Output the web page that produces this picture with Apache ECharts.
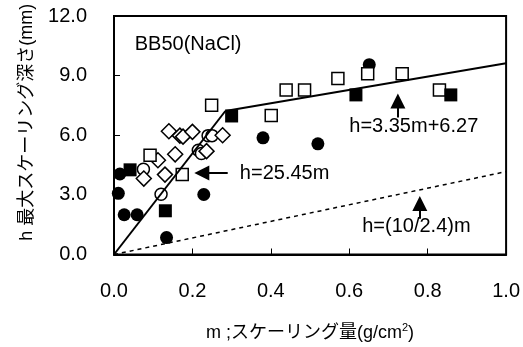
<!DOCTYPE html>
<html lang="ja">

<head>
  <meta charset="utf-8">
  <script src="https://cdn.jsdelivr.net/npm/echarts@6.0.0/dist/echarts.min.js"></script>
</head>

<body style="margin:0">
  <div id="scalingChart" style="width: 523px;height:347px;"></div>

  <script type="text/javascript">

    var xTicks = [0.0, 0.2, 0.4, 0.6, 0.8, 1.0];
    var yTicks = [0.0, 3.0, 6.0, 9.0, 12.0];

    // measured points (m, h)
    var filledCircles = [[0.015, 4.05], [0.011, 3.08], [0.026, 2.0], [0.059, 2.0], [0.134, 0.85],
                         [0.229, 3.02], [0.38, 5.87], [0.52, 5.57], [0.651, 9.55]];
    var openCircles = [[0.075, 4.29], [0.12, 3.03], [0.24, 5.98], [0.25, 5.98], [0.215, 5.25], [0.223, 5.08]];
    var openDiamonds = [[0.14, 6.2], [0.168, 5.98], [0.176, 5.93], [0.2, 6.17], [0.277, 6.0],
                        [0.236, 5.2], [0.156, 5.04], [0.112, 4.74], [0.076, 3.82], [0.13, 4.02]];
    var openSquares = [[0.249, 7.51], [0.092, 5.0], [0.174, 4.02], [0.401, 7.0], [0.439, 8.28],
                       [0.486, 8.28], [0.571, 8.85], [0.647, 9.1], [0.735, 9.1], [0.83, 8.28]];
    var filledSquares = [[0.041, 4.26], [0.131, 2.2], [0.30, 6.97], [0.617, 8.03], [0.859, 8.03]];

    // fitted lines
    var lineSteep = [[0, 0], [0.284, 7.22]];
    var lineFlat = [[0.284, 7.22], [1.0, 9.62]];
    var lineLimit = [[0, 0], [1.0, 4.17]];

    // annotations
    var labelTexts = ['BB50(NaCl)', 'h=25.45m', 'h=3.35m+6.27', 'h=(10/2.4)m'];
    var labelPos = [[0.053, 10.58], [0.321, 4.08], [0.60, 6.44], [0.633, 1.43]];
    var arrows = [
      [[0.29, 4.1], [0.224, 4.1]],
      [[0.724, 6.89], [0.724, 7.72]],
      [[0.78, 1.80], [0.78, 2.57]]
    ];

    var FONT = 'Arial, "Liberation Sans", "Noto Sans CJK JP", sans-serif';

    function getOrCreateChart(div) {
        return echarts.init(div);
    }

    function scatterSeries(name, data, symbol, size, filled) {
        return {
            name: name,
            type: 'scatter',
            data: data,
            symbol: symbol,
            symbolSize: size,
            itemStyle: {
                color: filled ? '#000' : '#fff',
                borderColor: '#000',
                borderWidth: filled ? 0 : 1.5,
                opacity: 1
            }
        };
    }

    function createScalingChart() {
        const chart = getOrCreateChart(document.getElementById("scalingChart"));

        var markPoints = labelTexts.map(function (t, i) {
            return {
                coord: labelPos[i],
                label: { formatter: t }
            };
        });

        var markLines = arrows.map(function (a) {
            return [{ coord: a[0] }, { coord: a[1] }];
        });

        var series = [
            {
                type: 'line', data: lineSteep, showSymbol: false, silent: true,
                lineStyle: { color: '#000', width: 2 }
            },
            {
                type: 'line', data: lineFlat, showSymbol: false, silent: true,
                lineStyle: { color: '#000', width: 2 }
            },
            {
                type: 'line', data: lineLimit, showSymbol: false, silent: true,
                lineStyle: { color: '#000', width: 1.5, type: [4, 4] },
                markPoint: {
                    symbol: 'circle',
                    symbolSize: 0,
                    label: {
                        show: true, position: 'right', distance: 0,
                        color: '#000', fontSize: 20, fontFamily: FONT
                    },
                    data: markPoints
                },
                markLine: {
                    silent: true,
                    symbol: ['none', 'triangle'],
                    symbolSize: 15,
                    label: { show: false },
                    lineStyle: { color: '#000', width: 2, type: 'solid' },
                    data: markLines
                }
            },
            scatterSeries('filledCircle', filledCircles, 'circle', 13, true),
            scatterSeries('openCircle', openCircles, 'circle', 12, false),
            scatterSeries('openDiamond', openDiamonds, 'diamond', 15, false),
            scatterSeries('openSquare', openSquares, 'rect', 12, false),
            scatterSeries('filledSquare', filledSquares, 'rect', 13, true)
        ];

        var option = {
            animation: false,
            grid: {
                left: 114, right: 16, top: 16, bottom: 87,
                show: true, borderColor: '#000', borderWidth: 2
            },
            xAxis: {
                type: 'value',
                min: xTicks[0],
                max: xTicks[xTicks.length - 1],
                interval: 0.2,
                name: 'm ;スケーリング量(g/cm{sup|2})',
                nameLocation: 'middle',
                nameGap: 68,
                nameTextStyle: {
                    color: '#000', fontSize: 18, fontFamily: FONT,
                    rich: { sup: { fontSize: 11, verticalAlign: 'top', padding: [0, 0, 10, 0], fontFamily: FONT } }
                },
                axisLine: { show: true, lineStyle: { color: '#000', width: 2 } },
                axisTick: { show: true, inside: true, length: 6, lineStyle: { color: '#000', width: 1 } },
                axisLabel: {
                    color: '#000', fontSize: 20, fontFamily: FONT, margin: 27,
                    formatter: function (v) { return v.toFixed(1); }
                },
                splitLine: { show: false }
            },
            yAxis: {
                type: 'value',
                min: yTicks[0],
                max: yTicks[yTicks.length - 1],
                interval: 3,
                name: 'h 最大スケーリング深さ(mm)',
                nameLocation: 'middle',
                nameGap: 78,
                nameTextStyle: {
                    color: '#000', fontSize: 18, fontFamily: FONT,
                    padding: [0, 0, 0, 26]
                },
                axisLine: { show: true, lineStyle: { color: '#000', width: 2 } },
                axisTick: { show: true, inside: true, length: 6, lineStyle: { color: '#000', width: 1 } },
                axisLabel: {
                    color: '#000', fontSize: 20, fontFamily: FONT, margin: 27,
                    formatter: function (v) { return v.toFixed(1); }
                },
                splitLine: { show: false }
            },
            series: series
        };

        chart.setOption(option);
    }
    createScalingChart();
  </script>
</body>

</html>
